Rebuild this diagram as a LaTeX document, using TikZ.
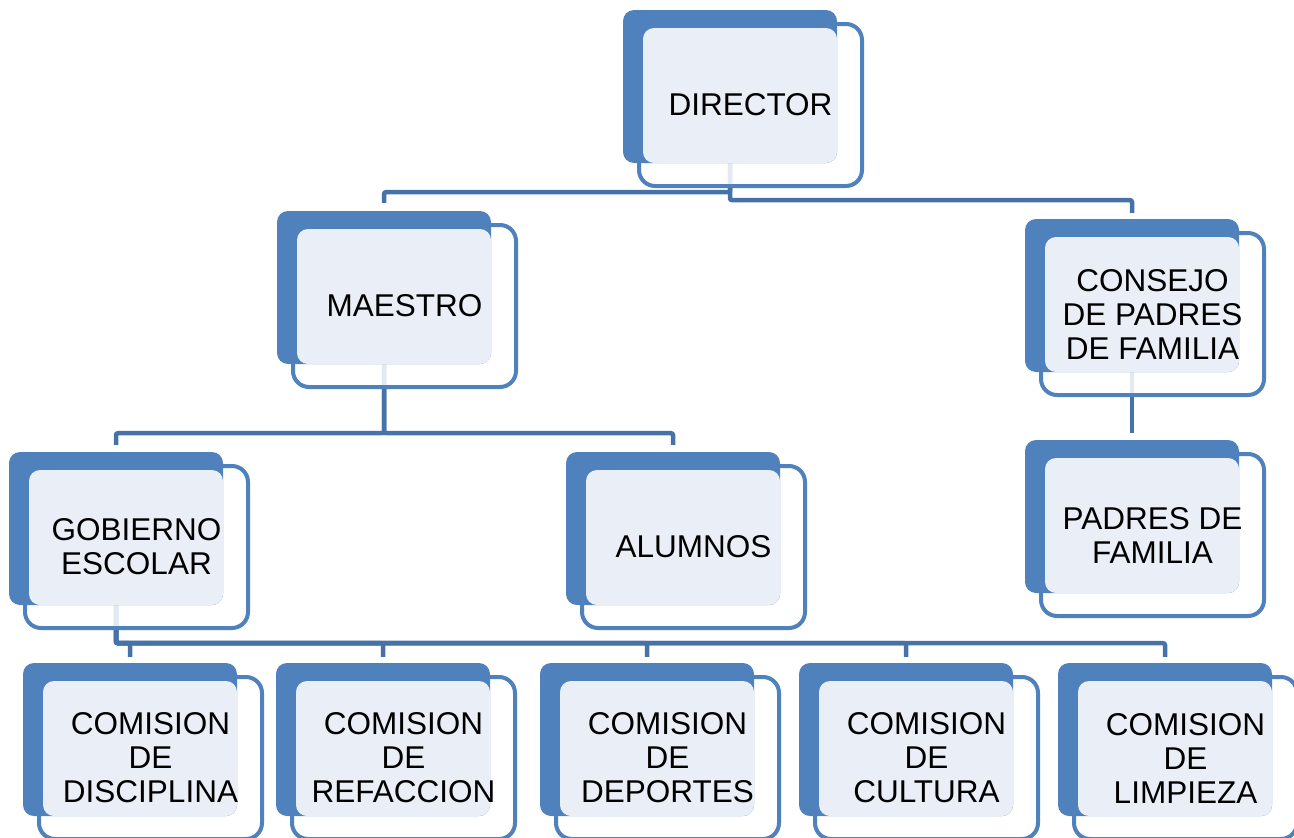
\documentclass[tikz,border=0pt]{standalone}
\usepackage{fontspec}
\setmainfont{Liberation Sans}
\usetikzlibrary{backgrounds}
\definecolor{boxblue}{RGB}{79,129,189}
\definecolor{boxlight}{RGB}{234,239,247}
\definecolor{linkblue}{RGB}{70,114,167}
\tikzset{
  backbox/.style={fill=boxblue, rounded corners=11pt, minimum width=214pt, minimum height=153pt, inner sep=0pt},
  outerbox/.style={draw=boxblue, line width=4pt, fill=white, fill opacity=.85, rounded corners=16pt},
  frontbox/.style={fill=boxlight, rounded corners=11pt},
  boxtext/.style={align=center, font=\fontsize{31.5}{34}\selectfont, text=black},
  link/.style={draw=linkblue, line width=4.5pt, rounded corners=2pt},
}
% box: name, top left corner of the dark card, text
\def\orgbox(#1)(#2,#3)#4{%
  \draw[outerbox] (#2+16,#3+14) rectangle (#2+239,#3+176);
  \node[backbox] (#1) at (#2+107,#3+76.5) {};
  \fill[frontbox] (#2+20,#3+18) rectangle (#2+214,#3+153);
  \node[boxtext] (#1-txt) at (#2+127.5,#3+95) {#4};
}

\begin{document}
\begin{tikzpicture}[x=1pt,y=-1pt]
		%%%%% START %%%%%
		\useasboundingbox (0,0) rectangle (1294,838);
		
		\orgbox(dir)(623,10){DIRECTOR}
		
		\orgbox(mae)(277,211){MAESTRO}
		\orgbox(con)(1025,219){CONSEJO\\DE PADRES\\DE FAMILIA}
		
		\orgbox(gob)(9,452){GOBIERNO\\ESCOLAR}
		\orgbox(alu)(566,452){ALUMNOS}
		\orgbox(pad)(1025,440){PADRES DE\\FAMILIA}
		
		\orgbox(disc)(23,663){COMISION\\DE\\DISCIPLINA}
		\orgbox(refa)(276,663){COMISION\\DE\\REFACCION}
		\orgbox(depo)(540,663){COMISION\\DE\\DEPORTES}
		\orgbox(cult)(799,663){COMISION\\DE\\CULTURA}
		\orgbox(limp)(1058,663){COMISION\\DE\\LIMPIEZA}
		
		\begin{pgfonlayer}{background}
		\draw[link, shorten >=8pt] (dir.south) -- ++(0,29) -| (mae.north);
		\draw[link, shorten >=6pt] (dir.south) -- ++(0,37) -| (con.north);
		
		\draw[link, shorten >=7pt] (mae.south) -- ++(0,69) -| (gob.north);
		\draw[link, shorten >=7pt] (mae.south) -- ++(0,69) -| (alu.north);
		
		\draw[link, shorten >=7pt] (con.south) -- (pad.north);
		
		\draw[link, shorten >=6pt] (gob.south) -- ++(0,38) -| (disc.north);
		\draw[link, shorten >=6pt] (gob.south) -- ++(0,38) -| (refa.north);
		\draw[link, shorten >=6pt] (gob.south) -- ++(0,38) -| (depo.north);
		\draw[link, shorten >=6pt] (gob.south) -- ++(0,38) -| (cult.north);
		\draw[link, shorten >=6pt] (gob.south) -- ++(0,38) -| (limp.north);
		\end{pgfonlayer}
		%%%%% END %%%%%
\end{tikzpicture}
\end{document}
